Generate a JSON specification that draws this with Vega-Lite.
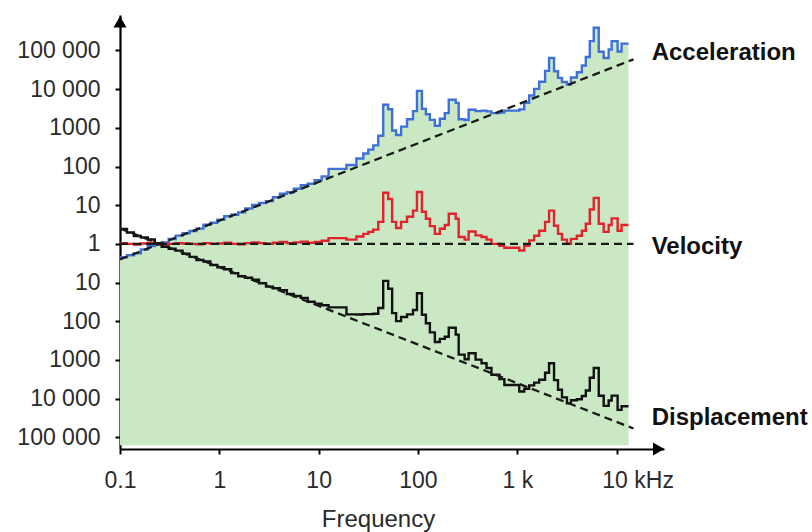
{
  "$schema": "https://vega.github.io/schema/vega-lite/v6.json",
  "width": 544,
  "height": 434,
  "autosize": {"type": "none"},
  "padding": {"left": 120, "top": 15, "right": 148, "bottom": 83},
  "background": "white",
  "config": {"view": {"stroke": null}, "font": "Liberation Sans"},
  "datasets": {
    "tr": [
      {"f":0.1,"a":-0.345,"v":0.02,"d":0.385},
      {"f":0.1175,"a":-0.295,"v":0,"d":0.295},
      {"f":0.138,"a":-0.245,"v":-0.02,"d":0.205},
      {"f":0.1622,"a":-0.145,"v":0.01,"d":0.165},
      {"f":0.1905,"a":-0.055,"v":0.03,"d":0.115},
      {"f":0.2239,"a":-0.015,"v":0,"d":0.015},
      {"f":0.263,"a":0.035,"v":-0.02,"d":-0.075},
      {"f":0.309,"a":0.125,"v":0,"d":-0.125},
      {"f":0.363,"a":0.215,"v":0.02,"d":-0.175},
      {"f":0.4266,"a":0.275,"v":0.01,"d":-0.255},
      {"f":0.5012,"a":0.335,"v":0,"d":-0.335},
      {"f":0.589,"a":0.395,"v":-0.01,"d":-0.415},
      {"f":0.692,"a":0.495,"v":0.02,"d":-0.455},
      {"f":0.813,"a":0.545,"v":0,"d":-0.545},
      {"f":0.955,"a":0.625,"v":0.01,"d":-0.605},
      {"f":1.122,"a":0.715,"v":0.03,"d":-0.655},
      {"f":1.318,"a":0.755,"v":0,"d":-0.755},
      {"f":1.549,"a":0.815,"v":-0.01,"d":-0.835},
      {"f":1.82,"a":0.915,"v":0.02,"d":-0.875},
      {"f":2.138,"a":1.005,"v":0.04,"d":-0.925},
      {"f":2.512,"a":1.055,"v":0.02,"d":-1.015},
      {"f":2.951,"a":1.105,"v":0,"d":-1.105},
      {"f":3.467,"a":1.205,"v":0.03,"d":-1.145},
      {"f":4.074,"a":1.295,"v":0.05,"d":-1.195},
      {"f":4.786,"a":1.335,"v":0.02,"d":-1.295},
      {"f":5.623,"a":1.425,"v":0.04,"d":-1.345},
      {"f":6.607,"a":1.515,"v":0.06,"d":-1.395},
      {"f":7.762,"a":1.555,"v":0.03,"d":-1.495},
      {"f":9.12,"a":1.645,"v":0.05,"d":-1.545},
      {"f":10.72,"a":1.745,"v":0.08,"d":-1.585},
      {"f":12.59,"a":1.94,"v":0.15,"d":-1.64},
      {"f":19.05,"a":2.04,"v":0.11,"d":-1.82},
      {"f":23.99,"a":2.205,"v":0.19,"d":-1.825},
      {"f":28.18,"a":2.335,"v":0.26,"d":-1.815},
      {"f":31.62,"a":2.435,"v":0.31,"d":-1.815},
      {"f":35.48,"a":2.545,"v":0.37,"d":-1.805},
      {"f":39.81,"a":2.795,"v":0.57,"d":-1.655},
      {"f":44.67,"a":3.595,"v":1.32,"d":-0.955},
      {"f":50.12,"a":3.48,"v":1.16,"d":-1.16},
      {"f":54.95,"a":2.93,"v":0.57,"d":-1.79},
      {"f":60.26,"a":2.815,"v":0.41,"d":-1.995},
      {"f":67.61,"a":3.03,"v":0.57,"d":-1.89},
      {"f":77.62,"a":3.22,"v":0.7,"d":-1.82},
      {"f":89.13,"a":3.43,"v":0.86,"d":-1.71},
      {"f":97.72,"a":3.955,"v":1.34,"d":-1.275},
      {"f":109.6,"a":3.49,"v":0.83,"d":-1.83},
      {"f":120.2,"a":3.35,"v":0.65,"d":-2.05},
      {"f":131.8,"a":3.205,"v":0.46,"d":-2.285},
      {"f":147.9,"a":3.055,"v":0.26,"d":-2.535},
      {"f":166.0,"a":3.235,"v":0.39,"d":-2.455},
      {"f":186.2,"a":3.38,"v":0.49,"d":-2.4},
      {"f":204.2,"a":3.725,"v":0.78,"d":-2.165},
      {"f":239.9,"a":3.645,"v":0.65,"d":-2.345},
      {"f":257.0,"a":3.22,"v":0.18,"d":-2.86},
      {"f":295.1,"a":3.2,"v":0.11,"d":-2.98},
      {"f":323.6,"a":3.465,"v":0.32,"d":-2.825},
      {"f":380.2,"a":3.43,"v":0.22,"d":-2.99},
      {"f":436.5,"a":3.445,"v":0.18,"d":-3.085},
      {"f":489.8,"a":3.425,"v":0.11,"d":-3.205},
      {"f":549.5,"a":3.38,"v":0,"d":-3.38},
      {"f":660.7,"a":3.395,"v":-0.05,"d":-3.495},
      {"f":741.3,"a":3.445,"v":-0.1,"d":-3.645},
      {"f":1047,"a":3.475,"v":-0.17,"d":-3.815},
      {"f":1175,"a":3.645,"v":-0.05,"d":-3.745},
      {"f":1318,"a":3.835,"v":0.09,"d":-3.655},
      {"f":1479,"a":4.005,"v":0.21,"d":-3.585},
      {"f":1660,"a":4.19,"v":0.34,"d":-3.51},
      {"f":1905,"a":4.47,"v":0.57,"d":-3.33},
      {"f":2089,"a":4.805,"v":0.86,"d":-3.085},
      {"f":2344,"a":4.46,"v":0.47,"d":-3.52},
      {"f":2570,"a":4.29,"v":0.26,"d":-3.77},
      {"f":2818,"a":4.185,"v":0.11,"d":-3.965},
      {"f":3162,"a":4.12,"v":0,"d":-4.12},
      {"f":3467,"a":4.3,"v":0.13,"d":-4.04},
      {"f":3981,"a":4.435,"v":0.21,"d":-4.015},
      {"f":4467,"a":4.61,"v":0.34,"d":-3.93},
      {"f":4898,"a":4.83,"v":0.52,"d":-3.79},
      {"f":5370,"a":5.24,"v":0.89,"d":-3.46},
      {"f":5888,"a":5.585,"v":1.19,"d":-3.205},
      {"f":6607,"a":4.965,"v":0.52,"d":-3.925},
      {"f":7413,"a":4.805,"v":0.31,"d":-4.185},
      {"f":8318,"a":5.025,"v":0.49,"d":-4.045},
      {"f":8913,"a":5.24,"v":0.66,"d":-3.92},
      {"f":10233,"a":4.97,"v":0.34,"d":-4.29},
      {"f":11220,"a":5.175,"v":0.49,"d":-4.195},
      {"f":13183,"a":5.175,"v":0.49,"d":-4.195}
    ],
    "ref": [
      {"f":0.1,"a":-0.4,"v":0,"d":0.4},
      {"f":14790,"a":4.77,"v":0,"d":-4.77}
    ],
    "labels": [
      {"name":"Acceleration","lv":4.94},
      {"name":"Velocity","lv":-0.08},
      {"name":"Displacement","lv":-4.5}
    ]
  },
  "layer": [
    {
      "data": {"name": "tr"},
      "mark": {"type": "area", "interpolate": "step-after", "color": "#c9e8c3"},
      "encoding": {
        "x": {"field": "f", "type": "quantitative",
          "scale": {"type": "log", "domain": [0.1, 30000], "nice": false},
          "axis": {
            "values": [0.1, 1, 10, 100, 1000, 10000],
            "labelExpr": "datum.value >= 10000 ? '10 kHz' : datum.value >= 1000 ? '1 k' : '' + datum.value",
            "grid": false, "domainColor": "#000", "domainWidth": 2.2,
            "tickColor": "#000", "tickWidth": 2, "tickSize": 5,
            "labelFontSize": 23, "labelColor": "#2a2a2a", "labelPadding": 15,
            "labelFlush": false, "labelOverlap": false,
            "labelOffset": {"condition": {"test": "datum.value >= 10000", "value": 21}, "value": 0},
            "title": "Frequency", "titleFontSize": 24, "titleFontWeight": "normal", "titleColor": "#2a2a2a",
            "titleBaseline": "alphabetic", "titleY": 77, "titleX": 258, "titleAlign": "center", "titleAnchor": null
          }
        },
        "y": {"field": "a", "type": "quantitative",
          "scale": {"domain": [-5.3, 5.915], "nice": false, "zero": false},
          "axis": {
            "values": [-5, -4, -3, -2, -1, 0, 1, 2, 3, 4, 5],
            "labelExpr": "abs(datum.value) == 5 ? '100 000' : abs(datum.value) == 4 ? '10 000' : '' + pow(10, abs(datum.value))",
            "grid": false, "domainColor": "#000", "domainWidth": 2.2,
            "tickColor": "#000", "tickWidth": 2, "tickSize": 5,
            "labelFontSize": 23, "labelColor": "#2a2a2a", "labelPadding": 15,
            "labelFlush": false, "labelOverlap": false, "title": null
          }
        },
        "y2": {"datum": -5.2}
      }
    },
    {
      "data": {"name": "tr"},
      "mark": {"type": "line", "interpolate": "step-after", "color": "#3f70d8", "strokeWidth": 2.4},
      "encoding": {
        "x": {"field": "f", "type": "quantitative"},
        "y": {"field": "a", "type": "quantitative"}
      }
    },
    {
      "data": {"name": "tr"},
      "mark": {"type": "line", "interpolate": "step-after", "color": "#e2232c", "strokeWidth": 2.4},
      "encoding": {
        "x": {"field": "f", "type": "quantitative"},
        "y": {"field": "v", "type": "quantitative"}
      }
    },
    {
      "data": {"name": "tr"},
      "mark": {"type": "line", "interpolate": "step-after", "color": "#111111", "strokeWidth": 2.4},
      "encoding": {
        "x": {"field": "f", "type": "quantitative"},
        "y": {"field": "d", "type": "quantitative"}
      }
    },
    {
      "data": {"name": "ref"},
      "mark": {"type": "line", "color": "#1a1a1a", "strokeWidth": 2.3, "strokeDash": [8, 5]},
      "encoding": {
        "x": {"field": "f", "type": "quantitative"},
        "y": {"field": "a", "type": "quantitative"}
      }
    },
    {
      "data": {"name": "ref"},
      "mark": {"type": "line", "color": "#1a1a1a", "strokeWidth": 2.3, "strokeDash": [8, 5]},
      "encoding": {
        "x": {"field": "f", "type": "quantitative"},
        "y": {"field": "v", "type": "quantitative"}
      }
    },
    {
      "data": {"name": "ref"},
      "mark": {"type": "line", "color": "#1a1a1a", "strokeWidth": 2.3, "strokeDash": [8, 5]},
      "encoding": {
        "x": {"field": "f", "type": "quantitative"},
        "y": {"field": "d", "type": "quantitative"}
      }
    },
    {
      "data": {"values": [{}]},
      "mark": {"type": "point", "shape": "triangle-up", "filled": true, "color": "#000", "opacity": 1, "size": 170},
      "encoding": {
        "x": {"datum": 0.1, "type": "quantitative"},
        "y": {"datum": 5.74, "type": "quantitative"}
      }
    },
    {
      "data": {"values": [{}]},
      "mark": {"type": "point", "shape": "triangle-right", "filled": true, "color": "#000", "opacity": 1, "size": 170},
      "encoding": {
        "x": {"datum": 26500, "type": "quantitative"},
        "y": {"datum": -5.3, "type": "quantitative"}
      }
    },
    {
      "data": {"name": "labels"},
      "mark": {"type": "text", "align": "left", "baseline": "middle", "fontSize": 24, "fontWeight": "bold", "color": "#111"},
      "encoding": {
        "x": {"datum": 22530, "type": "quantitative"},
        "y": {"field": "lv", "type": "quantitative"},
        "text": {"field": "name"}
      }
    }
  ]
}
